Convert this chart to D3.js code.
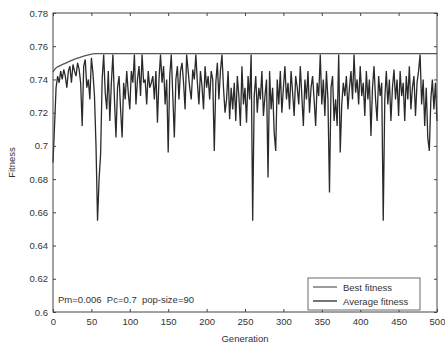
<!DOCTYPE html>
<html><head><meta charset="utf-8">
<script src="https://cdn.jsdelivr.net/npm/d3@7"></script>
<style>body{margin:0;background:#fff}svg{display:block}</style>
</head><body>
<script>
const avgStep = 2;
const avgValues = [
0.690,0.712,0.735,0.742,0.738,0.745,0.740,0.746,0.742,0.735,
0.745,0.748,0.738,0.749,0.745,0.742,0.750,0.746,0.738,0.712,
0.748,0.752,0.735,0.740,0.728,0.753,0.744,0.730,0.700,0.655,
0.680,0.695,0.740,0.755,0.732,0.722,0.745,0.715,0.738,0.755,
0.728,0.705,0.735,0.742,0.722,0.705,0.738,0.728,0.745,0.732,
0.722,0.745,0.738,0.755,0.725,0.740,0.748,0.730,0.755,0.738,
0.740,0.725,0.745,0.735,0.738,0.742,0.728,0.745,0.714,0.740,
0.755,0.738,0.748,0.725,0.740,0.696,0.742,0.755,0.730,0.705,
0.740,0.748,0.728,0.745,0.750,0.738,0.722,0.755,0.745,0.735,
0.728,0.746,0.740,0.755,0.738,0.725,0.745,0.736,0.722,0.748,
0.735,0.742,0.728,0.745,0.740,0.697,0.738,0.750,0.728,0.745,
0.755,0.735,0.720,0.728,0.745,0.716,0.735,0.722,0.738,0.715,
0.742,0.730,0.712,0.748,0.725,0.735,0.714,0.742,0.728,0.755,
0.655,0.730,0.742,0.720,0.735,0.728,0.745,0.718,0.730,0.740,
0.681,0.745,0.722,0.735,0.708,0.697,0.740,0.725,0.745,0.720,
0.735,0.748,0.728,0.738,0.722,0.745,0.732,0.718,0.742,0.735,
0.725,0.748,0.730,0.712,0.740,0.728,0.745,0.720,0.735,0.742,
0.728,0.712,0.738,0.730,0.755,0.725,0.740,0.718,0.745,0.728,
0.672,0.735,0.742,0.715,0.728,0.712,0.755,0.696,0.725,0.738,
0.730,0.742,0.722,0.735,0.745,0.728,0.755,0.732,0.740,0.725,
0.748,0.730,0.738,0.718,0.745,0.728,0.740,0.706,0.735,0.748,
0.728,0.715,0.742,0.730,0.738,0.655,0.728,0.745,0.725,0.740,
0.715,0.735,0.746,0.728,0.740,0.718,0.745,0.730,0.738,0.715,
0.742,0.728,0.748,0.722,0.735,0.742,0.718,0.738,0.745,0.755,
0.725,0.740,0.712,0.735,0.705,0.697,0.728,0.740,0.722,0.738,
0.715];
const bestGen = [0,3,8,15,22,30,38,46,55,500];
const bestValues = [0.7445,0.7465,0.748,0.7495,0.751,0.7525,0.7538,0.7548,0.7555,0.7555];
const xTicks = [0,50,100,150,200,250,300,350,400,450,500];
const yTicks = [0.6,0.62,0.64,0.66,0.68,0.7,0.72,0.74,0.76,0.78];
const yTickLabels = ["0.6","0.62","0.64","0.66","0.68","0.7","0.72","0.74","0.76","0.78"];
const legendLabels = ["Best fitness","Average fitness"];
const annotation = "Pm=0.006  Pc=0.7  pop-size=90";

const W = 445, H = 349;
const m = {l:53, r:8, t:13, b:37};
const svg = d3.select("body").append("svg").attr("width",W).attr("height",H);
const x = d3.scaleLinear().domain([0,500]).range([m.l, W-m.r]);
const y = d3.scaleLinear().domain([0.6,0.78]).range([H-m.b, m.t]);
const font = "'Liberation Sans', Arial, sans-serif";
const axCol = "#444";

const avg = avgValues.map((v,i)=>[i*avgStep, v]);
const best = bestGen.map((g,i)=>[g, bestValues[i]]);
const line = d3.line().x(d=>x(d[0])).y(d=>y(d[1]));

svg.append("path").datum(best).attr("d", d3.line().curve(d3.curveMonotoneX).x(d=>x(d[0])).y(d=>y(d[1])))
  .attr("fill","none").attr("stroke","#555").attr("stroke-width",1.3);
svg.append("path").datum(avg).attr("d", line)
  .attr("fill","none").attr("stroke","#2a2a2a").attr("stroke-width",1.3);

// box
svg.append("rect").attr("x",x(0)).attr("y",y(0.78)).attr("width",x(500)-x(0)).attr("height",y(0.6)-y(0.78))
  .attr("fill","none").attr("stroke",axCol).attr("stroke-width",1);

const gx = svg.append("g").attr("transform",`translate(0,${y(0.6)})`)
  .call(d3.axisBottom(x).tickValues(xTicks).tickSizeInner(-3).tickSizeOuter(0).tickPadding(6));
const gxt = svg.append("g").attr("transform",`translate(0,${y(0.78)})`)
  .call(d3.axisTop(x).tickValues(xTicks).tickSizeInner(-3).tickSizeOuter(0).tickFormat(""));
const gy = svg.append("g").attr("transform",`translate(${x(0)},0)`)
  .call(d3.axisLeft(y).tickValues(yTicks).tickFormat((d,i)=>yTickLabels[i]).tickSizeInner(-3).tickSizeOuter(0).tickPadding(5));
const gyr = svg.append("g").attr("transform",`translate(${x(500)},0)`)
  .call(d3.axisRight(y).tickValues(yTicks).tickSizeInner(-3).tickSizeOuter(0).tickFormat(""));
[gx,gxt,gy,gyr].forEach(g=>{
  g.select(".domain").remove();
  g.selectAll("line").attr("stroke",axCol);
  g.selectAll("text").attr("fill","#333").style("font-family",font).style("font-size","9.5px");
});

svg.append("text").attr("x",x(250)).attr("y",342).attr("text-anchor","middle")
  .style("font-family",font).style("font-size","9.5px").attr("fill","#333").text("Generation");
svg.append("text").attr("transform",`translate(15,${y(0.69)}) rotate(-90)`).attr("text-anchor","middle")
  .style("font-family",font).style("font-size","9.5px").attr("fill","#333").text("Fitness");

svg.append("text").attr("x",58).attr("y",303).style("font-family",font).style("font-size","9.5px")
  .attr("fill","#333").attr("xml:space","preserve").style("white-space","pre").text(annotation);

// legend
const lg = svg.append("g");
lg.append("rect").attr("x",308).attr("y",278).attr("width",112).attr("height",32)
  .attr("fill","#fff").attr("stroke",axCol).attr("stroke-width",0.8);
const lcols = ["#666","#2a2a2a"];
legendLabels.forEach((t,i)=>{
  const yy = 287 + i*14;
  lg.append("line").attr("x1",313).attr("x2",337).attr("y1",yy).attr("y2",yy).attr("stroke",lcols[i]).attr("stroke-width",1.3);
  lg.append("text").attr("x",343).attr("y",yy+3.5).style("font-family",font).style("font-size","9.5px").attr("fill","#333").text(t);
});
</script>
</body></html>
